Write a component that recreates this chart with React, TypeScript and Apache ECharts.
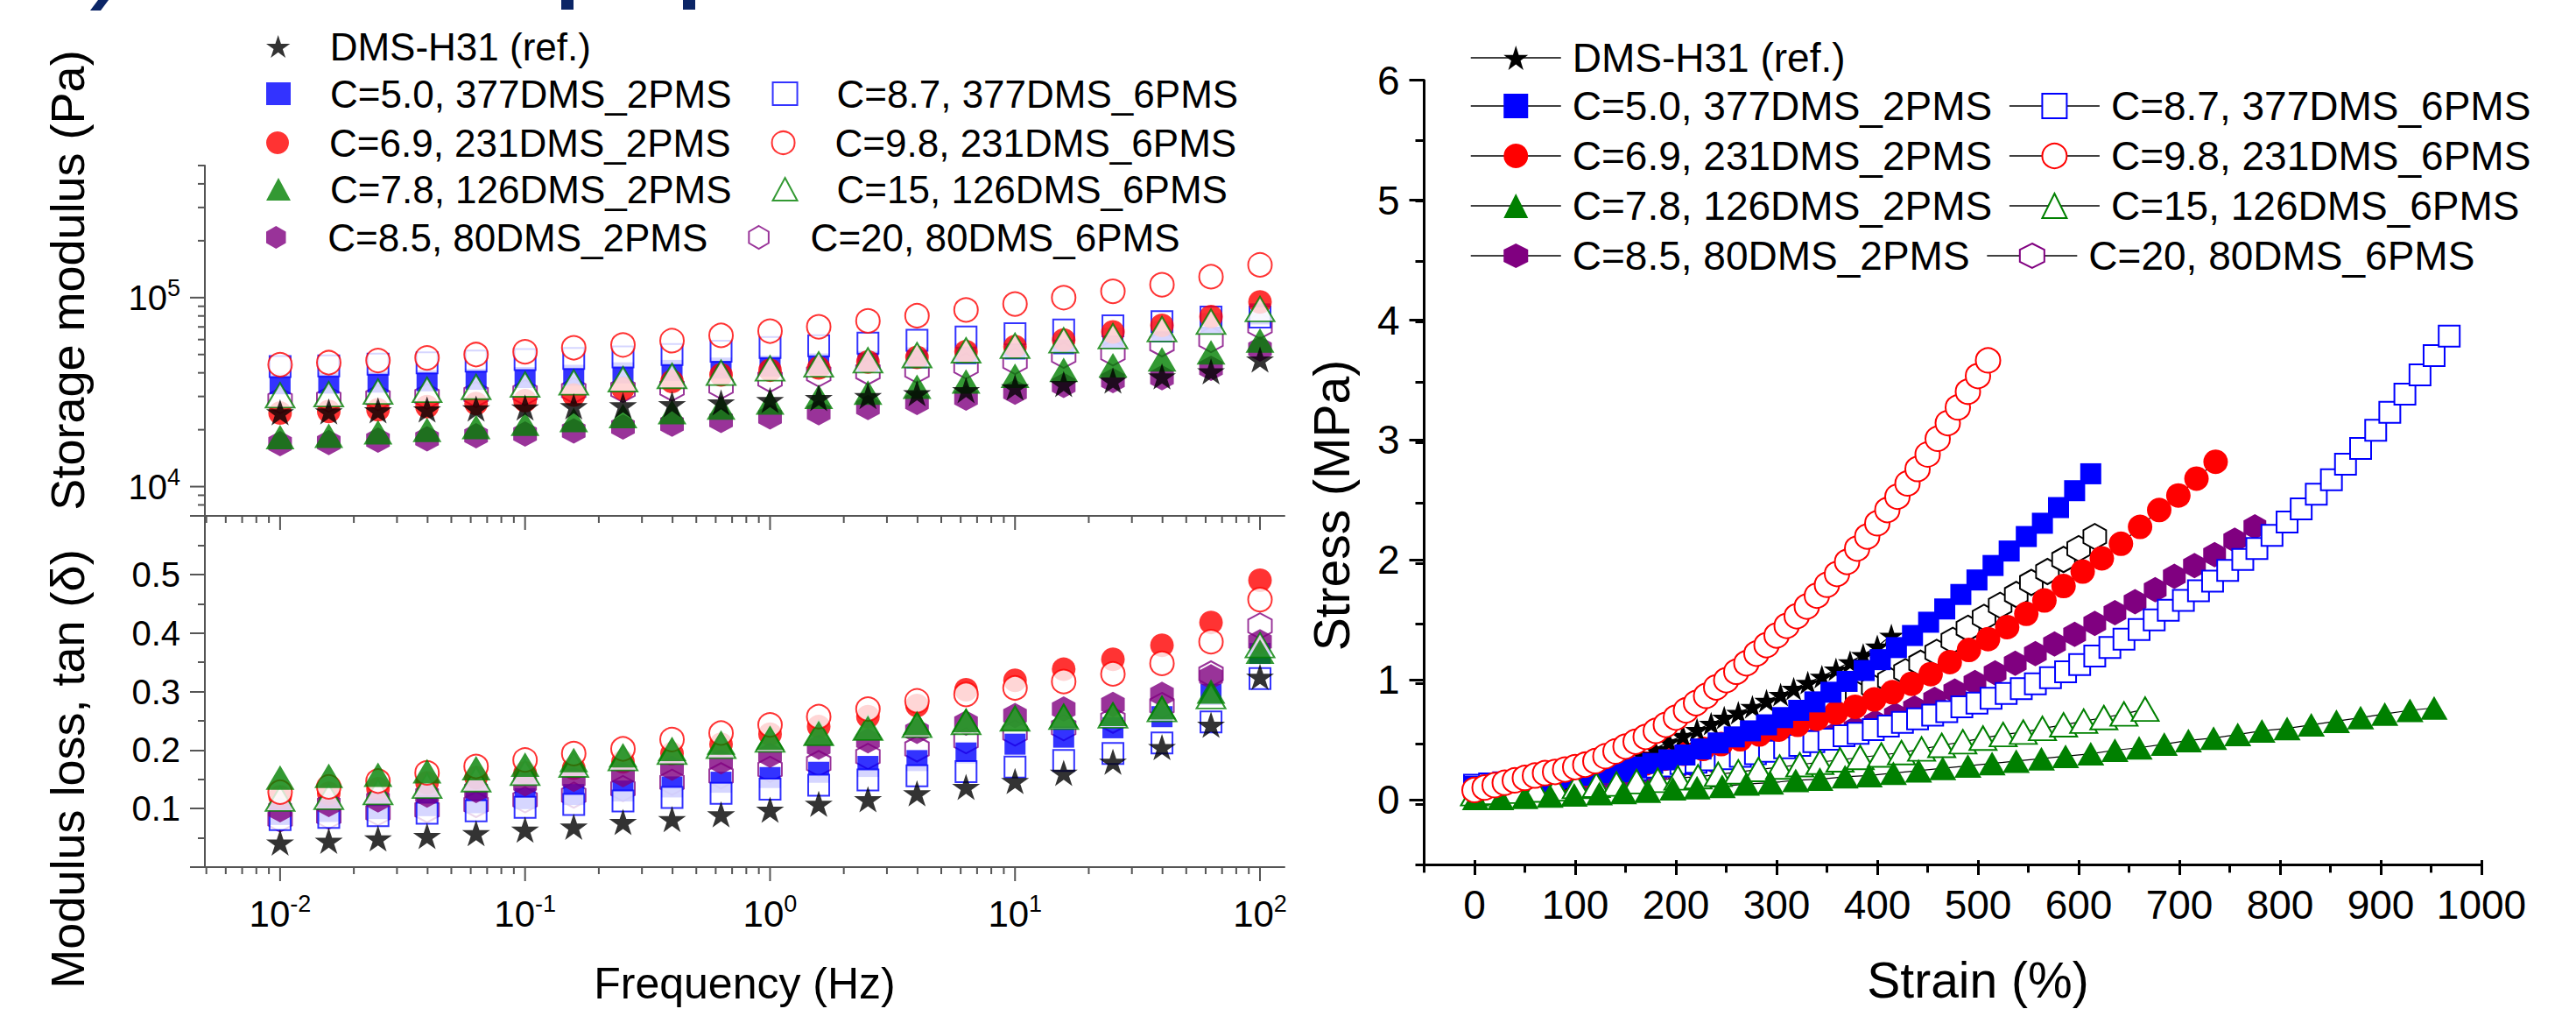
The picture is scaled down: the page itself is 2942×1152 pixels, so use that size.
import React, { useEffect, useRef } from 'react';
import * as echarts from 'echarts';

const FONT = '"Liberation Sans", Arial, Helvetica, sans-serif';
const BLUE = '#0000ff';
const RED = '#ff0000';
const GREEN = '#008000';
const PURPLE = '#800080';
const BLACK = '#000000';
const NAVY = '#0b2566';
const AXIS_GRAY = '#555555';

// ---------------- series names ----------------
const NAME: Record<string, string> = {
  ref: 'DMS-H31 (ref.)',
  c50: 'C=5.0, 377DMS_2PMS',
  c87: 'C=8.7, 377DMS_6PMS',
  c69: 'C=6.9, 231DMS_2PMS',
  c98: 'C=9.8, 231DMS_6PMS',
  c78: 'C=7.8, 126DMS_2PMS',
  c15: 'C=15, 126DMS_6PMS',
  c85: 'C=8.5, 80DMS_2PMS',
  c20: 'C=20, 80DMS_6PMS',
};

// ---------------- left: frequency sweep ----------------
const FREQ = [0.01, 0.0158, 0.0251, 0.0398, 0.0631, 0.1, 0.158, 0.251, 0.398, 0.631, 1, 1.58, 2.51, 3.98, 6.31, 10, 15.8, 25.1, 39.8, 63.1, 100];

// storage modulus (Pa)
const G_REF = [24700, 25000, 25300, 25600, 25900, 26200, 26600, 26900, 27300, 27900, 28700, 29400, 30100, 31200, 32400, 33500, 34900, 36400, 38300, 40700, 47000];
const G_C50 = [35000, 35300, 35700, 36300, 37000, 37800, 38800, 40000, 41200, 42400, 43400, 44600, 46000, 48000, 50500, 53500, 57000, 61000, 66000, 73000, 82000];
const G_C87 = [43200, 43500, 44500, 45200, 46200, 47000, 47700, 48500, 50000, 52000, 54500, 55600, 57400, 59500, 61900, 64400, 67500, 70900, 74600, 79000, 79000];
const G_C69 = [24500, 25000, 25500, 26500, 27500, 28500, 30500, 33000, 36000, 39000, 41300, 42500, 45700, 48300, 51800, 55100, 59700, 65800, 71300, 79400, 94800];
const G_C98 = [44200, 45300, 46500, 48000, 50000, 51700, 54300, 56200, 59200, 63100, 66500, 70100, 75300, 80200, 86100, 92500, 100000, 108000, 117000, 129000, 149000];
const G_C78 = [18300, 18600, 19400, 20000, 20700, 21500, 22500, 23600, 24800, 26200, 27900, 29900, 31400, 33800, 36000, 38600, 41500, 43900, 47100, 51400, 59300];
const G_C15 = [30400, 30800, 31800, 32500, 33700, 34700, 35600, 37000, 38500, 40000, 42200, 44300, 46600, 49600, 52600, 55600, 59400, 62500, 68100, 74500, 87000];
const G_C85 = [16900, 17100, 17600, 17900, 18600, 19000, 19700, 20700, 21400, 22400, 23400, 24600, 26200, 27900, 29400, 31600, 34300, 36400, 37700, 42300, 53500];
const G_C20 = [28500, 29000, 29500, 30000, 30700, 31400, 32200, 32700, 33200, 34000, 37000, 39500, 40500, 41300, 43500, 46000, 49500, 51000, 57000, 60000, 70800];

// loss factor tan(delta)
const T_REF = [0.042, 0.045, 0.049, 0.053, 0.058, 0.064, 0.069, 0.077, 0.082, 0.090, 0.098, 0.108, 0.116, 0.126, 0.137, 0.147, 0.161, 0.180, 0.205, 0.243, 0.325];
const T_C50 = [0.090, 0.095, 0.100, 0.105, 0.110, 0.117, 0.124, 0.130, 0.137, 0.145, 0.153, 0.162, 0.172, 0.182, 0.195, 0.210, 0.222, 0.238, 0.257, 0.295, 0.365];
const T_C87 = [0.081, 0.085, 0.088, 0.092, 0.096, 0.102, 0.107, 0.113, 0.119, 0.126, 0.133, 0.140, 0.149, 0.156, 0.163, 0.171, 0.182, 0.194, 0.212, 0.248, 0.322];
const T_C69 = [0.120, 0.126, 0.134, 0.144, 0.153, 0.161, 0.169, 0.180, 0.194, 0.210, 0.227, 0.240, 0.257, 0.276, 0.303, 0.319, 0.338, 0.355, 0.379, 0.418, 0.490];
const T_C98 = [0.128, 0.137, 0.147, 0.161, 0.172, 0.183, 0.194, 0.202, 0.218, 0.229, 0.243, 0.257, 0.270, 0.284, 0.295, 0.306, 0.317, 0.330, 0.348, 0.385, 0.457];
const T_C78 = [0.153, 0.156, 0.158, 0.164, 0.169, 0.175, 0.183, 0.191, 0.202, 0.213, 0.221, 0.229, 0.238, 0.246, 0.251, 0.254, 0.259, 0.262, 0.273, 0.300, 0.368];
const T_C15 = [0.117, 0.120, 0.128, 0.139, 0.150, 0.161, 0.175, 0.186, 0.197, 0.207, 0.218, 0.229, 0.238, 0.243, 0.248, 0.254, 0.257, 0.259, 0.270, 0.292, 0.379];
const T_C85 = [0.098, 0.107, 0.115, 0.123, 0.131, 0.142, 0.150, 0.158, 0.169, 0.180, 0.191, 0.205, 0.216, 0.232, 0.246, 0.259, 0.270, 0.278, 0.295, 0.325, 0.385];
const T_C20 = [0.082, 0.087, 0.093, 0.098, 0.107, 0.115, 0.123, 0.134, 0.145, 0.156, 0.167, 0.177, 0.189, 0.202, 0.216, 0.229, 0.238, 0.251, 0.276, 0.330, 0.412];

// axis tick values (left)
const F_MAJOR = [0.01, 0.1, 1, 10, 100];
const F_MINOR = [0.005, 0.006, 0.007, 0.008, 0.009, 0.02, 0.03, 0.04, 0.05, 0.06, 0.07, 0.08, 0.09, 0.2, 0.3, 0.4, 0.5, 0.6, 0.7, 0.8, 0.9, 2, 3, 4, 5, 6, 7, 8, 9, 20, 30, 40, 50, 60, 70, 80, 90];
const G_MAJOR = [10000, 100000];
const G_MINOR = [7000, 8000, 9000, 20000, 30000, 40000, 50000, 60000, 70000, 80000, 90000, 200000, 300000, 400000, 500000];
const F_MIN = Math.pow(10, -2.307);
const F_MAX = Math.pow(10, 2.1);
const G_MIN = 7000;
const G_MAX = 500000;

// ---------------- right: tensile ----------------
const E_REF = [0, 14, 28, 41, 55, 69, 83, 97, 110, 124, 138, 152, 166, 179, 193, 207, 221, 235, 248, 262, 276, 290, 304, 317, 331, 345, 359, 373, 386, 400, 414];
const S_REF = [0.10, 0.11, 0.12, 0.13, 0.15, 0.17, 0.19, 0.21, 0.24, 0.27, 0.31, 0.36, 0.41, 0.46, 0.52, 0.57, 0.62, 0.67, 0.72, 0.76, 0.81, 0.86, 0.91, 0.96, 1.01, 1.06, 1.12, 1.18, 1.24, 1.31, 1.40];

const E_C50 = [0, 16, 32, 48, 64, 80, 97, 113, 129, 145, 161, 177, 193, 209, 225, 242, 258, 274, 290, 306, 322, 338, 354, 370, 387, 403, 419, 435, 451, 467, 483, 499, 515, 531, 548, 564, 580, 596, 612];
const S_C50 = [0.15, 0.16, 0.17, 0.18, 0.19, 0.21, 0.22, 0.24, 0.26, 0.28, 0.31, 0.34, 0.37, 0.41, 0.46, 0.51, 0.56, 0.61, 0.66, 0.72, 0.78, 0.85, 0.93, 1.02, 1.11, 1.20, 1.30, 1.40, 1.51, 1.62, 1.74, 1.86, 1.98, 2.10, 2.22, 2.33, 2.46, 2.60, 2.74];

const E_C87 = [0, 15, 29, 44, 59, 73, 88, 103, 117, 132, 147, 161, 176, 191, 205, 220, 235, 249, 264, 279, 293, 308, 323, 337, 352, 367, 381, 396, 411, 425, 440, 455, 469, 484, 499, 513, 528, 543, 557, 572, 587, 601, 616, 631, 645, 660, 675, 689, 704, 719, 733, 748, 763, 777, 792, 807, 821, 836, 851, 865, 880, 895, 909, 924, 939, 953, 968];
const S_C87 = [0.16, 0.17, 0.18, 0.19, 0.20, 0.21, 0.22, 0.23, 0.25, 0.26, 0.28, 0.29, 0.31, 0.32, 0.34, 0.35, 0.37, 0.38, 0.40, 0.42, 0.44, 0.47, 0.49, 0.52, 0.54, 0.57, 0.59, 0.62, 0.65, 0.68, 0.71, 0.74, 0.77, 0.81, 0.84, 0.88, 0.92, 0.96, 1.00, 1.05, 1.10, 1.16, 1.23, 1.30, 1.37, 1.45, 1.53, 1.61, 1.69, 1.77, 1.85, 1.94, 2.03, 2.12, 2.23, 2.34, 2.45, 2.57, 2.69, 2.82, 2.95, 3.10, 3.25, 3.40, 3.56, 3.72, 3.88];

const E_C69 = [0, 19, 38, 57, 76, 94, 113, 132, 151, 170, 189, 208, 227, 245, 264, 283, 302, 321, 340, 359, 378, 397, 415, 434, 453, 472, 491, 510, 529, 548, 566, 585, 604, 623, 642, 661, 680, 699, 717, 736];
const S_C69 = [0.10, 0.12, 0.14, 0.16, 0.18, 0.21, 0.24, 0.27, 0.30, 0.34, 0.38, 0.42, 0.46, 0.50, 0.54, 0.58, 0.62, 0.66, 0.71, 0.76, 0.81, 0.87, 0.93, 1.00, 1.08, 1.18, 1.28, 1.37, 1.47, 1.58, 1.69, 1.81, 1.93, 2.04, 2.16, 2.30, 2.44, 2.56, 2.70, 2.84];

const E_C98 = [0, 10, 20, 30, 40, 50, 60, 70, 80, 90, 100, 110, 120, 130, 140, 150, 160, 170, 180, 190, 200, 210, 220, 230, 240, 250, 260, 270, 280, 290, 300, 310, 320, 330, 340, 350, 360, 370, 380, 390, 400, 410, 420, 430, 440, 450, 460, 470, 480, 490, 500, 510];
const S_C98 = [0.12, 0.14, 0.16, 0.18, 0.20, 0.22, 0.24, 0.26, 0.27, 0.29, 0.31, 0.33, 0.36, 0.40, 0.44, 0.48, 0.52, 0.56, 0.61, 0.66, 0.72, 0.78, 0.84, 0.90, 0.97, 1.03, 1.10, 1.17, 1.25, 1.32, 1.40, 1.48, 1.56, 1.64, 1.73, 1.82, 1.91, 2.01, 2.12, 2.22, 2.33, 2.44, 2.55, 2.66, 2.78, 2.90, 3.03, 3.16, 3.29, 3.42, 3.55, 3.68];

const E_C78 = [1, 26, 50, 75, 99, 124, 148, 172, 197, 221, 246, 270, 294, 319, 343, 368, 392, 416, 441, 465, 490, 514, 538, 563, 587, 612, 636, 660, 685, 709, 734, 758, 782, 807, 831, 856, 880, 904, 929, 953];
const S_C78 = [0.05, 0.05, 0.06, 0.07, 0.08, 0.09, 0.10, 0.11, 0.13, 0.14, 0.15, 0.17, 0.18, 0.20, 0.21, 0.23, 0.24, 0.26, 0.28, 0.30, 0.32, 0.34, 0.36, 0.38, 0.40, 0.42, 0.45, 0.47, 0.50, 0.53, 0.55, 0.58, 0.61, 0.63, 0.66, 0.69, 0.72, 0.75, 0.78, 0.80];

const E_C15 = [0, 20, 40, 61, 81, 101, 121, 141, 161, 182, 202, 222, 242, 262, 282, 303, 323, 343, 363, 383, 404, 424, 444, 464, 485, 505, 525, 545, 564, 585, 605, 625, 645, 666];
const S_C15 = [0.09, 0.10, 0.11, 0.12, 0.13, 0.15, 0.16, 0.17, 0.19, 0.20, 0.22, 0.23, 0.25, 0.27, 0.29, 0.31, 0.33, 0.35, 0.37, 0.39, 0.41, 0.43, 0.46, 0.49, 0.52, 0.55, 0.58, 0.60, 0.63, 0.66, 0.69, 0.72, 0.75, 0.79];

const E_C85 = [1, 21, 41, 61, 80, 100, 120, 140, 160, 180, 199, 219, 239, 259, 279, 299, 318, 338, 358, 378, 398, 418, 437, 457, 477, 497, 517, 537, 557, 576, 596, 616, 636, 656, 676, 695, 715, 735, 755, 775];
const S_C85 = [0.08, 0.10, 0.11, 0.13, 0.15, 0.17, 0.19, 0.21, 0.23, 0.26, 0.29, 0.32, 0.35, 0.38, 0.42, 0.46, 0.50, 0.54, 0.58, 0.63, 0.68, 0.74, 0.80, 0.87, 0.94, 1.01, 1.09, 1.17, 1.25, 1.33, 1.41, 1.50, 1.59, 1.68, 1.78, 1.89, 1.98, 2.07, 2.19, 2.30];

const E_C20 = [3, 19, 35, 50, 66, 82, 98, 113, 129, 145, 160, 176, 192, 208, 223, 239, 255, 270, 286, 302, 318, 333, 349, 365, 380, 396, 412, 428, 443, 459, 475, 490, 506, 522, 538, 553, 569, 585, 600, 616];
const S_C20 = [0.11, 0.12, 0.14, 0.15, 0.17, 0.19, 0.21, 0.23, 0.25, 0.28, 0.31, 0.34, 0.37, 0.40, 0.44, 0.48, 0.52, 0.56, 0.60, 0.65, 0.70, 0.75, 0.80, 0.86, 0.91, 0.97, 1.03, 1.10, 1.17, 1.26, 1.36, 1.46, 1.55, 1.65, 1.74, 1.84, 1.93, 2.03, 2.12, 2.22];

// ---------------- styles ----------------
const STAR = 'path://M0,-1L0.2245,-0.309L0.951,-0.309L0.363,0.118L0.588,0.809L0,0.382L-0.588,0.809L-0.363,0.118L-0.951,-0.309L-0.2245,-0.309Z';
const HEX = 'path://M0,-1L0.866,-0.5L0.866,0.5L0,1L-0.866,0.5L-0.866,-0.5Z';

type Mark = { symbol: string; color: string; open: boolean; sizeL: any; sizeR: any };
const MARK: Record<string, Mark> = {
  ref: { symbol: STAR, color: BLACK, open: false, sizeL: [32, 30], sizeR: [28, 27] },
  c50: { symbol: 'rect', color: BLUE, open: false, sizeL: 24, sizeR: 24 },
  c87: { symbol: 'rect', color: BLUE, open: true, sizeL: 24, sizeR: 24 },
  c69: { symbol: 'circle', color: RED, open: false, sizeL: 27, sizeR: 28 },
  c98: { symbol: 'circle', color: RED, open: true, sizeL: 27, sizeR: 28 },
  c78: { symbol: 'triangle', color: GREEN, open: false, sizeL: [33, 28], sizeR: [31, 27] },
  c15: { symbol: 'triangle', color: GREEN, open: true, sizeL: [33, 28], sizeR: [31, 27] },
  c85: { symbol: HEX, color: PURPLE, open: false, sizeL: [27, 29], sizeR: [26, 29] },
  c20: { symbol: HEX, color: PURPLE, open: true, sizeL: [27, 29], sizeR: [26, 29] },
};

const G_DATA: Record<string, number[]> = { ref: G_REF, c50: G_C50, c87: G_C87, c69: G_C69, c98: G_C98, c78: G_C78, c15: G_C15, c85: G_C85, c20: G_C20 };
const T_DATA: Record<string, number[]> = { ref: T_REF, c50: T_C50, c87: T_C87, c69: T_C69, c98: T_C98, c78: T_C78, c15: T_C15, c85: T_C85, c20: T_C20 };
const E_DATA: Record<string, number[]> = { ref: E_REF, c50: E_C50, c87: E_C87, c69: E_C69, c98: E_C98, c78: E_C78, c15: E_C15, c85: E_C85, c20: E_C20 };
const S_DATA: Record<string, number[]> = { ref: S_REF, c50: S_C50, c87: S_C87, c69: S_C69, c98: S_C98, c78: S_C78, c15: S_C15, c85: S_C85, c20: S_C20 };

const LEFT_ORDER = ['c20', 'c50', 'c87', 'c69', 'c85', 'c15', 'c98', 'c78', 'ref'];
const RIGHT_ORDER = ['c20', 'c85', 'c87', 'c69', 'ref', 'c50', 'c15', 'c78', 'c98'];
const LEGEND_ROWS = [['ref'], ['c50', 'c87'], ['c69', 'c98'], ['c78', 'c15'], ['c85', 'c20']];
const LEFT_ROW_Y = [53, 107, 163, 216, 271];
const RIGHT_ROW_Y = [66, 121, 178, 235, 292];

function pow10Label(v: number) {
  const l = Math.log10(v);
  const e = Math.round(l);
  if (Math.abs(l - e) > 0.01) return '';
  return '{b|10}{s|' + e + '}';
}

function richFor(base: number, sup: number) {
  return {
    b: { fontSize: base, fontFamily: FONT, color: '#000', lineHeight: base + 8 },
    s: { fontSize: sup, fontFamily: FONT, color: '#000', verticalAlign: 'top', lineHeight: sup },
  };
}

function tickSeries(axisIdx: number, values: number[], fixed: number, isX: boolean, len: number) {
  return {
    type: 'custom',
    xAxisIndex: axisIdx,
    yAxisIndex: axisIdx,
    silent: true,
    z: 10,
    clip: false,
    data: values.map((v) => (isX ? [v, fixed] : [fixed, v])),
    renderItem: (_params: any, api: any) => {
      const p = api.coord([api.value(0), api.value(1)]);
      const shape = isX
        ? { x1: p[0], y1: p[1], x2: p[0], y2: p[1] + len }
        : { x1: p[0] - len, y1: p[1], x2: p[0], y2: p[1] };
      return { type: 'line', shape, style: { stroke: AXIS_GRAY, lineWidth: 2 } };
    },
  };
}

function markerStyle(key: string, borderOverride?: string) {
  const m = MARK[key];
  return m.open
    ? { color: '#ffffff', borderColor: borderOverride || m.color, borderWidth: 2 }
    : { color: m.color, borderColor: m.color, borderWidth: 0 };
}

function buildOption() {
  const leftSeries: any[] = [];
  [0, 1].forEach((gi) => {
    LEFT_ORDER.forEach((k) => {
      const ys = gi === 0 ? G_DATA[k] : T_DATA[k];
      leftSeries.push({
        type: 'scatter',
        name: NAME[k],
        xAxisIndex: gi,
        yAxisIndex: gi,
        data: FREQ.map((f, i) => [f, ys[i]]),
        symbol: MARK[k].symbol,
        symbolSize: MARK[k].sizeL,
        itemStyle: markerStyle(k),
        emphasis: { disabled: true },
      });
    });
  });

  const rightSeries: any[] = RIGHT_ORDER.map((k) => ({
    type: 'line',
    name: 'R:' + NAME[k],
    xAxisIndex: 2,
    yAxisIndex: 2,
    data: E_DATA[k].map((e, i) => [e, S_DATA[k][i]]),
    symbol: MARK[k].symbol,
    symbolSize: MARK[k].sizeR,
    showSymbol: true,
    showAllSymbol: true,
    lineStyle: { color: '#000', width: 1.2 },
    itemStyle: markerStyle(k, k === 'c20' ? BLACK : undefined),
    emphasis: { disabled: true },
  }));

  const ticks = [
    tickSeries(0, F_MAJOR, G_MIN, true, 16),
    tickSeries(0, F_MINOR, G_MIN, true, 8),
    tickSeries(0, G_MAJOR, F_MIN, false, 17),
    tickSeries(0, G_MINOR, F_MIN, false, 8),
    tickSeries(1, F_MAJOR, 0, true, 16),
    tickSeries(1, F_MINOR, 0, true, 8),
  ];

  const leftLegends = LEGEND_ROWS.map((row, i) => ({
    orient: 'horizontal',
    left: 304,
    top: LEFT_ROW_Y[i] - 24,
    padding: 0,
    itemGap: 46,
    itemWidth: 28,
    itemHeight: 26,
    selectedMode: false,
    data: row.map((k) => ({ name: NAME[k] })),
    textStyle: { fontSize: 44, lineHeight: 48, fontFamily: FONT, color: '#000', padding: [0, 0, 0, 40] },
  }));

  const rightLegends = LEGEND_ROWS.map((row, i) => ({
    orient: 'horizontal',
    left: 1679,
    top: RIGHT_ROW_Y[i] - 25,
    padding: 0,
    itemGap: 19,
    itemWidth: 103,
    itemHeight: 35,
    selectedMode: false,
    formatter: (n: string) => n.replace(/^R:/, ''),
    data: row.map((k) => (k === 'c20' ? { name: 'R:' + NAME[k], itemStyle: { borderColor: PURPLE } } : { name: 'R:' + NAME[k] })),
    lineStyle: { width: 1.5 },
    textStyle: { fontSize: 46, lineHeight: 50, fontFamily: FONT, color: '#000', padding: [0, 0, 0, 8] },
  }));

  const grayLine = { show: true, onZero: false, lineStyle: { color: AXIS_GRAY, width: 2 } };
  const blackLine = { show: true, onZero: false, lineStyle: { color: '#000', width: 3 } };

  return {
    animation: false,
    backgroundColor: '#ffffff',
    textStyle: { fontFamily: FONT },
    grid: [
      { left: 234, top: 189, width: 1233, height: 400 },
      { left: 234, top: 589, width: 1233, height: 401 },
      { left: 1626.5, top: 91.7, width: 1207.5, height: 895.7 },
      { left: 1684, top: 91.7, width: 1150, height: 826.8 },
    ],
    xAxis: [
      {
        gridIndex: 0, type: 'log', logBase: 10, min: F_MIN, max: F_MAX,
        axisLine: grayLine, axisTick: { show: false }, axisLabel: { show: false }, splitLine: { show: false },
      },
      {
        gridIndex: 1, type: 'log', logBase: 10, min: F_MIN, max: F_MAX,
        axisLine: grayLine, axisTick: { show: false }, splitLine: { show: false },
        axisLabel: { formatter: pow10Label, rich: richFor(42, 27), margin: 28, showMinLabel: false, showMaxLabel: false },
        name: 'Frequency (Hz)', nameLocation: 'middle', nameGap: 108,
        nameTextStyle: { fontSize: 50, fontFamily: FONT, color: '#000' },
      },
      {
        gridIndex: 2, type: 'value', min: -50, max: 1000, interval: 50,
        axisLine: blackLine, axisTick: { length: 9, lineStyle: { color: '#000', width: 3 } },
        axisLabel: { show: false }, splitLine: { show: false },
      },
      {
        gridIndex: 3, type: 'value', min: 0, max: 1000, interval: 100, offset: 68.9,
        axisLine: { show: false, onZero: false }, axisTick: { length: 17, lineStyle: { color: '#000', width: 3 } },
        axisLabel: { fontSize: 46, fontFamily: FONT, color: '#000', margin: 28, formatter: (v: number) => String(v) },
        splitLine: { show: false },
        name: 'Strain (%)', nameLocation: 'middle', nameGap: 108,
        nameTextStyle: { fontSize: 57, fontFamily: FONT, color: '#000' },
      },
    ],
    yAxis: [
      {
        gridIndex: 0, type: 'log', logBase: 10, min: G_MIN, max: G_MAX,
        axisLine: grayLine, axisTick: { show: false }, splitLine: { show: false },
        axisLabel: { formatter: pow10Label, rich: richFor(40, 27), margin: 28, showMinLabel: false, showMaxLabel: false },
      },
      {
        gridIndex: 1, type: 'value', min: 0, max: 0.6, interval: 0.1,
        axisLine: grayLine,
        axisTick: { length: 17, lineStyle: { color: AXIS_GRAY, width: 2 } },
        minorTick: { show: true, splitNumber: 2, length: 8, lineStyle: { color: AXIS_GRAY, width: 2 } },
        axisLabel: { fontSize: 40, fontFamily: FONT, color: '#000', margin: 28, showMinLabel: false, showMaxLabel: false, formatter: (v: number) => v.toFixed(1) },
        splitLine: { show: false }, minorSplitLine: { show: false },
      },
      {
        gridIndex: 2, type: 'value', min: -0.5, max: 6, interval: 0.5,
        axisLine: blackLine, axisTick: { length: 10, lineStyle: { color: '#000', width: 3 } },
        axisLabel: { show: false }, splitLine: { show: false },
      },
      {
        gridIndex: 3, type: 'value', min: 0, max: 6, interval: 1, offset: 57.5,
        axisLine: { show: false, onZero: false }, axisTick: { length: 17, lineStyle: { color: '#000', width: 3 } },
        axisLabel: { fontSize: 46, fontFamily: FONT, color: '#000', margin: 28 }, splitLine: { show: false },
      },
    ],
    legend: [...leftLegends, ...rightLegends],
    graphic: [
      {
        type: 'text', x: 77, y: 320, rotation: Math.PI / 2,
        style: { text: 'Storage modulus (Pa)', fontSize: 54, fontFamily: FONT, fill: '#000', align: 'center', verticalAlign: 'middle' },
      },
      {
        type: 'text', x: 77, y: 878, rotation: Math.PI / 2,
        style: { text: 'Modulus loss, tan (δ)', fontSize: 54, fontFamily: FONT, fill: '#000', align: 'center', verticalAlign: 'middle' },
      },
      {
        type: 'text', x: 1521, y: 577, rotation: Math.PI / 2,
        style: { text: 'Stress (MPa)', fontSize: 57, fontFamily: FONT, fill: '#000', align: 'center', verticalAlign: 'middle' },
      },
      { type: 'polygon', shape: { points: [[112, 0], [124, 0], [115, 12], [103, 12]] }, style: { fill: NAVY } },
      { type: 'rect', shape: { x: 641, y: 0, width: 14, height: 11 }, style: { fill: NAVY } },
      { type: 'rect', shape: { x: 780, y: 0, width: 14, height: 11 }, style: { fill: NAVY } },
    ],
    series: [...ticks, ...leftSeries, ...rightSeries],
  };
}

export default function App() {
  const ref = useRef<HTMLDivElement>(null);
  useEffect(() => {
    if (!ref.current) return;
    const chart = echarts.init(ref.current, undefined, { renderer: 'svg' });
    chart.setOption(buildOption() as any);
    return () => chart.dispose();
  }, []);
  return (
    <div
      ref={ref}
      style={{ position: 'fixed', left: 0, top: 0, width: 2942, height: 1152, background: '#ffffff' }}
    />
  );
}
